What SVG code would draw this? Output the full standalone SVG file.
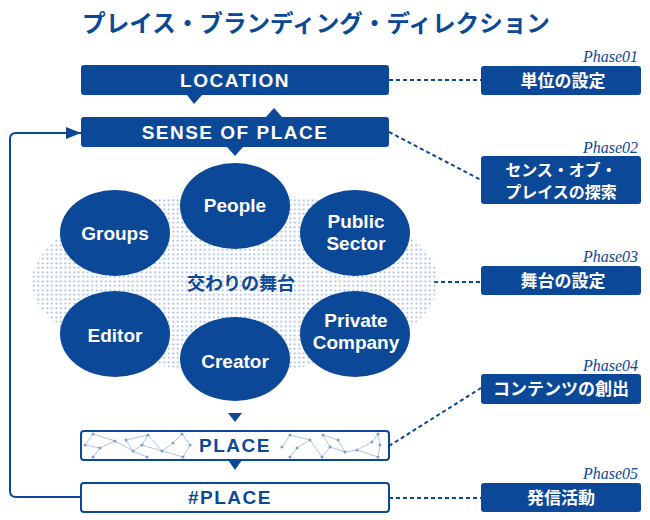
<svg xmlns="http://www.w3.org/2000/svg" width="650" height="520" viewBox="0 0 650 520">
<style>
.bx{fill:#0b4897}
.wb{fill:#fff;stroke:#0b4897;stroke-width:2}
.lt{font-family:"Liberation Sans",Arial,sans-serif;font-weight:bold;font-size:19px;fill:#fff;text-anchor:middle;letter-spacing:1.5px}
.lb{fill:#0b4897}
.et{font-family:"Liberation Sans",Arial,sans-serif;font-weight:bold;font-size:19px;fill:#fff;text-anchor:middle}
.jt{font-family:"Noto Sans CJK JP",sans-serif;font-weight:bold;font-size:17px;fill:#fff;text-anchor:middle}
.jt2{font-family:"Noto Sans CJK JP",sans-serif;font-weight:bold;font-size:16px;fill:#fff;text-anchor:middle}
.ph{font-family:"Liberation Serif",serif;font-style:italic;font-size:16px;fill:#0b4897;text-anchor:end}
.dl{stroke:#0b4897;stroke-width:2;stroke-dasharray:4 3;fill:none}
.nw{stroke:#9ab4da;stroke-width:0.8;fill:none}
.nd{fill:#7ea0d0}
</style>
<defs>
<pattern id="dots" width="4.5" height="4.5" patternUnits="userSpaceOnUse">
<circle cx="2.25" cy="2.25" r="1" fill="#8eacd8"/>
</pattern>
</defs>

<text x="316" y="32" font-family="'Noto Sans CJK JP',sans-serif" font-weight="bold" font-size="23.6" fill="#0b4897" text-anchor="middle">プレイス・ブランディング・ディレクション</text>

<g id="connectors">
<path d="M81,133 H16 Q10,133 10,139 V491 Q10,497 16,497 H81" fill="none" stroke="#0b4897" stroke-width="2"/>
<path d="M66,127 L81,133 L66,139 Z" fill="#0b4897"/>
<line class="dl" x1="389" y1="80" x2="481" y2="80"/>
<line class="dl" x1="389" y1="132" x2="481" y2="180"/>
<line class="dl" x1="434" y1="282" x2="481" y2="282"/>
<line class="dl" x1="389" y1="446" x2="481" y2="388"/>
<line class="dl" x1="389" y1="498" x2="481" y2="498"/>
<path d="M187,95 L202,95 L194,104 Z" fill="#0b4897"/>
<path d="M266,117 L282,117 L274,108 Z" fill="#0b4897"/>
<path d="M227,147 L243,147 L235,156 Z" fill="#0b4897"/>
<path d="M228,413 L242,413 L235,422 Z" fill="#0b4897"/>
<path d="M228,460 L242,460 L235,470 Z" fill="#0b4897"/>
</g>

<g id="location">
<rect class="bx" x="81" y="65" width="308" height="30" rx="3"/>
<text class="lt" x="235" y="87">LOCATION</text>
</g>
<g id="sense">
<rect class="bx" x="81" y="117" width="308" height="30" rx="3"/>
<text class="lt" x="235" y="139">SENSE OF PLACE</text>
</g>

<g id="stage">
<ellipse cx="235" cy="282" rx="203" ry="90" fill="url(#dots)"/>
<text x="241" y="290" font-family="'Noto Sans CJK JP',sans-serif" font-weight="bold" font-size="18" fill="#0b4897" text-anchor="middle">交わりの舞台</text>
</g>
<g id="people"><ellipse class="bx" cx="235" cy="206" rx="55" ry="43"/><text class="et" x="235" y="212">People</text></g>
<g id="groups"><ellipse class="bx" cx="115" cy="233" rx="55" ry="43"/><text class="et" x="115" y="240">Groups</text></g>
<g id="public"><ellipse class="bx" cx="355" cy="233" rx="55" ry="43"/><text class="et" x="356" y="228">Public</text><text class="et" x="356" y="250">Sector</text></g>
<g id="editor"><ellipse class="bx" cx="115" cy="334" rx="55" ry="43"/><text class="et" x="115" y="342">Editor</text></g>
<g id="creator"><ellipse class="bx" cx="235" cy="359" rx="55" ry="42"/><text class="et" x="235" y="368">Creator</text></g>
<g id="private"><ellipse class="bx" cx="355" cy="334" rx="55" ry="43"/><text class="et" x="356" y="327">Private</text><text class="et" x="356" y="349">Company</text></g>

<g id="place">
<rect class="wb" x="81" y="431" width="308" height="29" rx="3"/>
<g class="nw">
<polyline points="85,445 93,434 115,441 100,448 85,445"/>
<polyline points="93,457 100,448"/>
<polyline points="115,441 133,451 126,440 148,435 142,445 133,451 147,457"/>
<polyline points="142,445 162,451 173,443 182,434 190,445 183,457 162,451"/>
<polyline points="148,435 162,451"/>
<polyline points="282,447 290,435 310,440 297,448 290,457"/>
<polyline points="310,440 322,457 330,447 323,435 338,440 345,452 357,450 372,442 378,434 380,445 378,457"/>
<polyline points="345,452 330,447"/>
<polyline points="357,450 378,457"/>
</g>
<g class="nd">
<circle cx="85" cy="445" r="1.5"/><circle cx="93" cy="434" r="1.5"/><circle cx="100" cy="448" r="1.5"/><circle cx="93" cy="457" r="1.5"/><circle cx="115" cy="441" r="1.5"/><circle cx="126" cy="440" r="1.5"/><circle cx="133" cy="451" r="1.5"/><circle cx="142" cy="445" r="1.5"/><circle cx="148" cy="435" r="1.5"/><circle cx="147" cy="457" r="1.5"/><circle cx="162" cy="451" r="1.5"/><circle cx="173" cy="443" r="1.5"/><circle cx="182" cy="434" r="1.5"/><circle cx="190" cy="445" r="1.5"/><circle cx="183" cy="457" r="1.5"/>
<circle cx="290" cy="435" r="1.5"/><circle cx="282" cy="447" r="1.5"/><circle cx="297" cy="448" r="1.5"/><circle cx="290" cy="457" r="1.5"/><circle cx="310" cy="440" r="1.5"/><circle cx="322" cy="457" r="1.5"/><circle cx="330" cy="447" r="1.5"/><circle cx="323" cy="435" r="1.5"/><circle cx="338" cy="440" r="1.5"/><circle cx="345" cy="452" r="1.5"/><circle cx="357" cy="450" r="1.5"/><circle cx="372" cy="442" r="1.5"/><circle cx="378" cy="434" r="1.5"/><circle cx="380" cy="445" r="1.5"/><circle cx="378" cy="457" r="1.5"/>
</g>
<text class="lt lb" x="235" y="452">PLACE</text>
</g>
<g id="hashplace">
<rect class="wb" x="81" y="483" width="308" height="29" rx="3"/>
<text class="lt lb" x="230" y="504">#PLACE</text>
</g>

<g id="phase1">
<text class="ph" x="638" y="62">Phase01</text>
<rect class="bx" x="481" y="66" width="160" height="29" rx="3"/>
<text class="jt" x="563" y="87">単位の設定</text>
</g>
<g id="phase2">
<text class="ph" x="638" y="153">Phase02</text>
<rect class="bx" x="481" y="156" width="160" height="48" rx="3"/>
<text class="jt2" x="561" y="176">センス・オブ・</text>
<text class="jt2" x="561" y="198">プレイスの探索</text>
</g>
<g id="phase3">
<text class="ph" x="638" y="262">Phase03</text>
<rect class="bx" x="481" y="266" width="160" height="29" rx="3"/>
<text class="jt" x="563" y="287">舞台の設定</text>
</g>
<g id="phase4">
<text class="ph" x="638" y="371">Phase04</text>
<rect class="bx" x="481" y="374" width="160" height="30" rx="3"/>
<text class="jt" x="561" y="395">コンテンツの創出</text>
</g>
<g id="phase5">
<text class="ph" x="638" y="479">Phase05</text>
<rect class="bx" x="481" y="483" width="160" height="29" rx="3"/>
<text class="jt" x="561" y="504">発信活動</text>
</g>
</svg>
